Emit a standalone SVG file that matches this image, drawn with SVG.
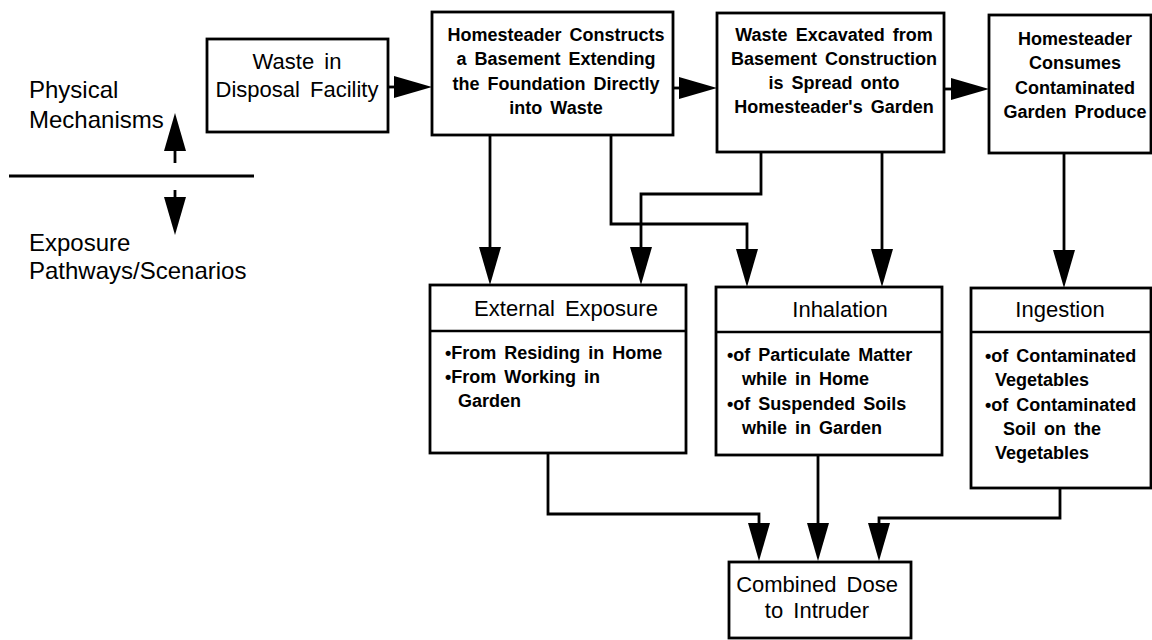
<svg xmlns="http://www.w3.org/2000/svg" width="1152" height="640" viewBox="0 0 1152 640">
<style>
.box{fill:#fff;stroke:#000;stroke-width:2.8}
.sep{stroke:#000;stroke-width:2.6}
.con{fill:none;stroke:#000;stroke-width:2.8}
.b{font-family:"Liberation Sans",Arial,sans-serif;font-weight:bold;font-size:18px;fill:#000;word-spacing:3px}
.r{font-family:"Liberation Sans",Arial,sans-serif;font-size:22px;fill:#000;word-spacing:4px}
.lab{font-family:"Liberation Sans",Arial,sans-serif;font-size:24px;fill:#000}
.c{text-anchor:middle}
</style>
<defs>
<marker id="ah" markerUnits="userSpaceOnUse" markerWidth="38" markerHeight="22" viewBox="0 0 38 22" refX="8" refY="11" orient="auto">
<path d="M0,0 L38,11 L0,22 z" fill="#000"/>
</marker>
</defs>
<rect width="1152" height="640" fill="#fff"/>

<g id="legend">
<text class="lab" x="29" y="98">Physical</text>
<text class="lab" x="29" y="128">Mechanisms</text>
<line x1="9" y1="176" x2="254" y2="176" class="con"/>
<path class="con" d="M175,163 V143" marker-end="url(#ah)"/>
<path class="con" d="M175,190 V205" marker-end="url(#ah)"/>
<text class="lab" x="29" y="251">Exposure</text>
<text class="lab" x="29" y="279">Pathways/Scenarios</text>
</g>

<g id="connectors">
<path class="con" d="M388,87 H402" marker-end="url(#ah)"/>
<path class="con" d="M673,88 H687" marker-end="url(#ah)"/>
<path class="con" d="M944,89 H959" marker-end="url(#ah)"/>
<path class="con" d="M490,135 V255" marker-end="url(#ah)"/>
<path class="con" d="M611,135 V224 H747 V257" marker-end="url(#ah)"/>
<path class="con" d="M761,152 V194 H641 V255" marker-end="url(#ah)"/>
<path class="con" d="M882,152 V257" marker-end="url(#ah)"/>
<path class="con" d="M1064,153 V258" marker-end="url(#ah)"/>
<path class="con" d="M548,453 V514 H759 V531" marker-end="url(#ah)"/>
<path class="con" d="M818,455 V531" marker-end="url(#ah)"/>
<path class="con" d="M1060,488 V518 H879 V531" marker-end="url(#ah)"/>
</g>

<g id="waste-facility">
<rect class="box" x="207" y="39" width="181" height="93"/>
<text class="r c" x="297" y="69">Waste in</text>
<text class="r c" x="297" y="97">Disposal Facility</text>
</g>

<g id="basement">
<rect class="box" x="432" y="12" width="241" height="123"/>
<text class="b c" x="556" y="41">Homesteader Constructs</text>
<text class="b c" x="556" y="65">a Basement Extending</text>
<text class="b c" x="556" y="90">the Foundation Directly</text>
<text class="b c" x="556" y="114">into Waste</text>
</g>

<g id="excavated">
<rect class="box" x="717" y="13" width="227" height="139"/>
<text class="b c" x="834" y="41">Waste Excavated from</text>
<text class="b c" x="834" y="65">Basement Construction</text>
<text class="b c" x="834" y="89">is Spread onto</text>
<text class="b c" x="834" y="113">Homesteader's Garden</text>
</g>

<g id="consumes">
<rect class="box" x="989" y="15" width="162" height="138"/>
<text class="b c" x="1075" y="45">Homesteader</text>
<text class="b c" x="1075" y="69">Consumes</text>
<text class="b c" x="1075" y="94">Contaminated</text>
<text class="b c" x="1075" y="118">Garden Produce</text>
</g>

<g id="external">
<rect class="box" x="430" y="285" width="256" height="168"/>
<line class="sep" x1="430" y1="331" x2="686" y2="331"/>
<text class="r c" x="566" y="316">External Exposure</text>
<text class="b" x="445" y="359">•From Residing in Home</text>
<text class="b" x="445" y="383">•From Working in</text>
<text class="b" x="458" y="407">Garden</text>
</g>

<g id="inhalation">
<rect class="box" x="716" y="287" width="226" height="168"/>
<line class="sep" x1="716" y1="332" x2="942" y2="332"/>
<text class="r c" x="840" y="317">Inhalation</text>
<text class="b" x="727" y="361">•of Particulate Matter</text>
<text class="b" x="742" y="385">while in Home</text>
<text class="b" x="727" y="410">•of Suspended Soils</text>
<text class="b" x="742" y="434">while in Garden</text>
</g>

<g id="ingestion">
<rect class="box" x="971" y="288" width="180" height="200"/>
<line class="sep" x1="971" y1="332" x2="1151" y2="332"/>
<text class="r c" x="1060" y="317">Ingestion</text>
<text class="b" x="985" y="362">•of Contaminated</text>
<text class="b" x="995" y="386">Vegetables</text>
<text class="b" x="985" y="411">•of Contaminated</text>
<text class="b" x="1003" y="435">Soil on the</text>
<text class="b" x="995" y="459">Vegetables</text>
</g>

<g id="combined">
<rect class="box" x="729" y="562" width="182" height="76"/>
<text class="r c" x="817" y="592">Combined Dose</text>
<text class="r c" x="817" y="618">to Intruder</text>
</g>
</svg>
